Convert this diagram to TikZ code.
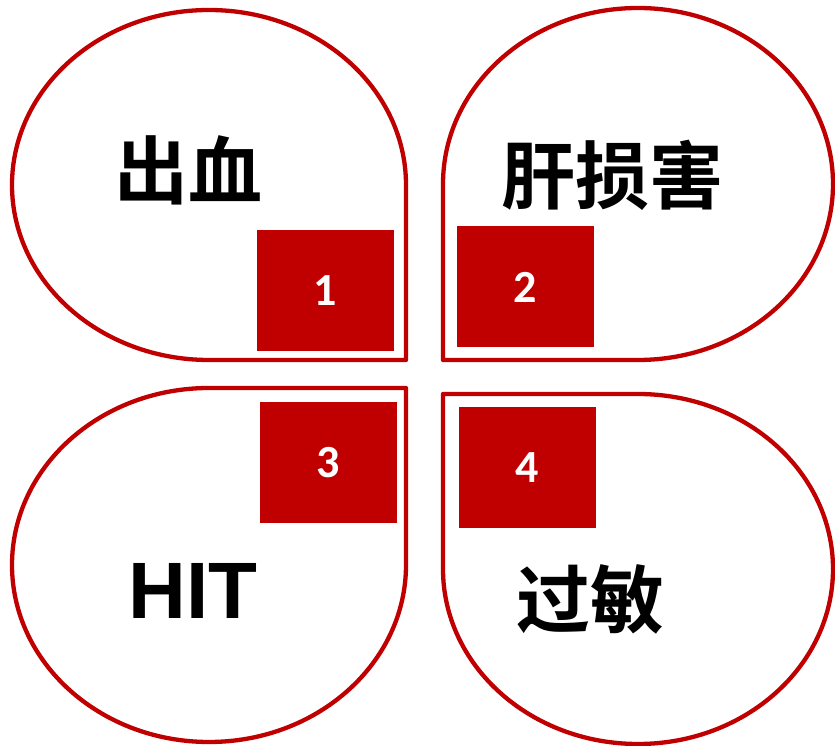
\documentclass[tikz,border=0pt]{standalone}
\usepackage{fontspec}
\setmainfont{Carlito}
\newfontfamily\cjk{Noto Sans CJK SC}[BoldFont={Noto Sans CJK SC Bold}]
\newfontfamily\latinbold{Liberation Sans}
\definecolor{dred}{RGB}{192,0,0}
\begin{document}
\begin{tikzpicture}[x=1pt,y=1pt,
  petal/.style={draw=dred,line width=4.3pt,line join=round,fill=white},
  numbox/.style={fill=dred,minimum width=137pt,minimum height=121pt,inner sep=0pt,text=white,font=\fontsize{46}{46}\selectfont\bfseries},
  cjklabel/.style={inner sep=0pt,font=\cjk\fontsize{74}{74}\selectfont\bfseries},
  hitlabel/.style={inner sep=0pt,font=\latinbold\fontsize{80}{80}\selectfont\bfseries}]
\useasboundingbox (0,0) rectangle (835,746);
% petals
\draw[petal] (406,386) -- (406,561) arc[start angle=0,end angle=180,x radius=197,y radius=175] arc[start angle=180,end angle=270,x radius=197,y radius=175] -- cycle;
\draw[petal] (443,386) -- (638,386) arc[start angle=-90,end angle=180,x radius=195,y radius=176] -- cycle;
\draw[petal] (406,358) -- (209,358) arc[start angle=90,end angle=360,x radius=197,y radius=177] -- cycle;
\draw[petal] (443,352) -- (443,177) arc[start angle=180,end angle=450,x radius=195,y radius=175] -- cycle;
% number boxes
\node[numbox] (n1) at (325.5,455.5) {1};
\node[numbox] (n2) at (525,459) {2};
\node[numbox] (n3) at (328.5,283.5) {3};
\node[numbox] (n4) at (527.5,278.5) {4};
% labels
\node[cjklabel] (t1) at (188,576) {出血};
\node[cjklabel] (t2) at (612,571) {肝损害};
\node[hitlabel] (t3) at (193,155) {HIT};
\node[cjklabel] (t4) at (590,147) {过敏};
\end{tikzpicture}
\end{document}
